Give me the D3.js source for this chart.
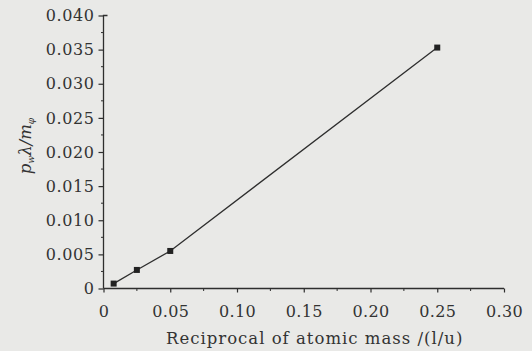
<!DOCTYPE html>
<html><head><meta charset="utf-8">
<script src="https://cdn.jsdelivr.net/npm/d3@7"></script>
<style>
html,body{margin:0;padding:0;background:#e9e9e7;}
svg{display:block;}
text{font-family:"DejaVu Serif",serif;fill:#333;}
</style></head>
<body>
<svg id="c" width="532" height="351"></svg>
<script>
const xValues = [0.0076, 0.025, 0.050, 0.250];
const yValues = [0.00072, 0.00272, 0.0055, 0.0353];
const xTicks = [0, 0.05, 0.10, 0.15, 0.20, 0.25, 0.30];
const xTickLabels = ["0", "0.05", "0.10", "0.15", "0.20", "0.25", "0.30"];
const yTicks = [0, 0.005, 0.010, 0.015, 0.020, 0.025, 0.030, 0.035, 0.040];
const yTickLabels = ["0", "0.005", "0.010", "0.015", "0.020", "0.025", "0.030", "0.035", "0.040"];
const xLabel = "Reciprocal of atomic mass /(l/u)";

const svg = d3.select("#c");
const ink = "#2e2e2e";
const x = d3.scaleLinear().domain([0, 0.30]).range([103.5, 504]);
const y = d3.scaleLinear().domain([0, 0.040]).range([288.5, 15.5]);

// X axis
const xAxis = d3.axisBottom(x).tickValues(xTicks).tickSize(4).tickPadding(13)
  .tickFormat((d, i) => xTickLabels[i]);
const gx = svg.append("g").attr("transform", `translate(0,${y(0)})`).call(xAxis);
gx.select(".domain").attr("stroke", ink).attr("stroke-width", 1.3).attr("d", `M${x(0)},0H${x(0.30)}`);
gx.selectAll(".tick line").attr("stroke", ink).attr("stroke-width", 1.2);
gx.selectAll(".tick text").attr("font-size", 16).attr("fill", "#333")
  .attr("font-family", "DejaVu Serif").style("letter-spacing", "0.4px");
const xMinor = d3.range(0.025, 0.30, 0.05);
gx.selectAll(".minor").data(xMinor).enter().append("line")
  .attr("x1", d => x(d)).attr("x2", d => x(d)).attr("y1", 0).attr("y2", 2.5)
  .attr("stroke", ink).attr("stroke-width", 1);

// Y axis
const yAxis = d3.axisLeft(y).tickValues(yTicks).tickSize(5).tickPadding(4)
  .tickFormat((d, i) => yTickLabels[i]);
const gy = svg.append("g").attr("transform", `translate(${x(0)},0)`).call(yAxis);
gy.select(".domain").attr("stroke", ink).attr("stroke-width", 1.3).attr("d", `M4,${y(0.040)}H0V${y(0)}`);
gy.selectAll(".tick line").attr("stroke", ink).attr("stroke-width", 1.2);
gy.selectAll(".tick text").attr("font-size", 16).attr("fill", "#333")
  .attr("font-family", "DejaVu Serif").style("letter-spacing", "0.6px");
const yMinor = d3.range(0.0025, 0.040, 0.005);
gy.selectAll(".minor").data(yMinor).enter().append("line")
  .attr("x1", 0).attr("x2", -2.5).attr("y1", d => y(d)).attr("y2", d => y(d))
  .attr("stroke", ink).attr("stroke-width", 1);

// line + markers
const pts = xValues.map((v, i) => [v, yValues[i]]);
svg.append("path").datum(pts)
  .attr("d", d3.line().x(d => x(d[0])).y(d => y(d[1])))
  .attr("fill", "none").attr("stroke", ink).attr("stroke-width", 1.3);
svg.selectAll(".pt").data(pts).enter().append("rect")
  .attr("x", d => x(d[0]) - 3).attr("y", d => y(d[1]) - 3)
  .attr("width", 6).attr("height", 6).attr("fill", "#222");

// x label
svg.append("text").attr("x", 166).attr("y", 344)
  .attr("font-size", 16.5).style("letter-spacing", "1px").text(xLabel);

// y label
const yl = svg.append("text").attr("transform", `translate(31,146)rotate(-90)`)
  .attr("text-anchor", "middle").attr("font-size", 16.5).attr("font-style", "italic");
yl.append("tspan").text("p");
yl.append("tspan").attr("font-size", 9).attr("dy", 3).text("w");
yl.append("tspan").attr("dy", -3).text("λ/m");
yl.append("tspan").attr("font-size", 9).attr("dy", 3).text("φ");
</script>
</body></html>
